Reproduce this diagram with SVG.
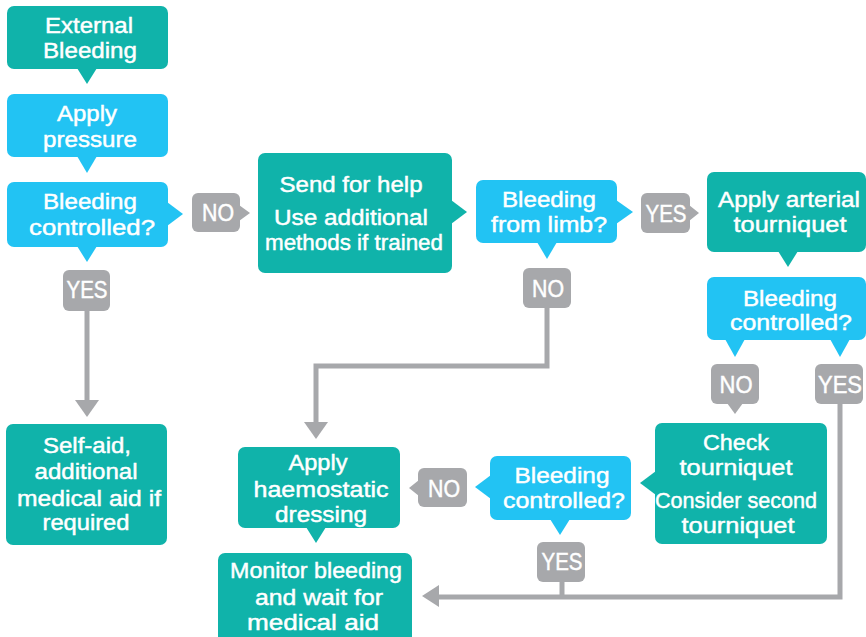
<svg xmlns="http://www.w3.org/2000/svg" width="866" height="637" viewBox="0 0 866 637">
<style>
.teal{fill:#10b3aa}
.blue{fill:#22c3f3}
.gray{fill:#a7a8ab}
.t{font-family:"Liberation Sans",Arial,sans-serif;font-size:22px;fill:#fff;stroke:#fff;stroke-width:0.45;text-anchor:middle}
.g{font-size:23px}
.line{fill:none;stroke:#a7a8ab;stroke-width:5}
</style>
<rect width="866" height="637" fill="#fff"/>
<g id="connectors">
<path class="line" d="M87,311 V402"/>
<polygon class="gray" points="75,400 99,400 87,417"/>
<path class="line" d="M547,308 V366 H316 V424"/>
<polygon class="gray" points="304,422 328,422 316,439"/>
<path class="line" d="M840,404 V597 H437"/>
<path class="line" d="M562,582 V597"/>
<polygon class="gray" points="439,585 422,596 439,607"/>
</g>
<g id="n-external">
<rect class="teal" x="7" y="6" width="161" height="63" rx="7"/>
<polygon class="teal" points="77,68 87,84 97,68"/>
<text class="t" x="89" y="33" textLength="88" lengthAdjust="spacingAndGlyphs">External</text>
<text class="t" x="90" y="58" textLength="94" lengthAdjust="spacingAndGlyphs">Bleeding</text>
</g>
<g id="n-pressure">
<rect class="blue" x="7" y="94" width="161" height="63" rx="7"/>
<polygon class="blue" points="77,156 87,173 97,156"/>
<text class="t" x="87" y="121" textLength="60" lengthAdjust="spacingAndGlyphs">Apply</text>
<text class="t" x="90" y="147" textLength="94" lengthAdjust="spacingAndGlyphs">pressure</text>
</g>
<g id="n-controlled1">
<rect class="blue" x="7" y="182" width="161" height="65" rx="7"/>
<polygon class="blue" points="167,202 183,214 167,226"/>
<polygon class="blue" points="77,246 87,262 97,246"/>
<text class="t" x="90" y="209" textLength="94" lengthAdjust="spacingAndGlyphs">Bleeding</text>
<text class="t" x="92" y="235" textLength="126" lengthAdjust="spacingAndGlyphs">controlled?</text>
</g>
<g id="tag-no1">
<rect class="gray" x="192" y="193" width="48" height="39" rx="6"/>
<polygon class="gray" points="239,205 250,213 239,221"/>
<text class="t g" x="218" y="221" textLength="32" lengthAdjust="spacingAndGlyphs">NO</text>
</g>
<g id="tag-yes1">
<rect class="gray" x="63" y="270" width="47" height="41" rx="6"/>
<text class="t g" x="87" y="298" textLength="41" lengthAdjust="spacingAndGlyphs">YES</text>
</g>
<g id="n-selfaid">
<rect class="teal" x="6" y="424" width="161" height="121" rx="7"/>
<text class="t" x="87" y="453" textLength="88" lengthAdjust="spacingAndGlyphs">Self-aid,</text>
<text class="t" x="86" y="479" textLength="103" lengthAdjust="spacingAndGlyphs">additional</text>
<text class="t" x="89" y="506" textLength="144" lengthAdjust="spacingAndGlyphs">medical aid if</text>
<text class="t" x="86" y="530" textLength="87" lengthAdjust="spacingAndGlyphs">required</text>
</g>
<g id="n-help">
<rect class="teal" x="258" y="153" width="194" height="120" rx="7"/>
<polygon class="teal" points="451,200 467,212 451,224"/>
<text class="t" x="351" y="192" textLength="143" lengthAdjust="spacingAndGlyphs">Send for help</text>
<text class="t" x="351" y="225" textLength="154" lengthAdjust="spacingAndGlyphs">Use additional</text>
<text class="t" x="354" y="250" textLength="178" lengthAdjust="spacingAndGlyphs">methods if trained</text>
</g>
<g id="n-limb">
<rect class="blue" x="476" y="180" width="141" height="63" rx="7"/>
<polygon class="blue" points="616,200 633,212 616,224"/>
<polygon class="blue" points="537,242 547,259 557,242"/>
<text class="t" x="549" y="207" textLength="94" lengthAdjust="spacingAndGlyphs">Bleeding</text>
<text class="t" x="549" y="232" textLength="116" lengthAdjust="spacingAndGlyphs">from limb?</text>
</g>
<g id="tag-yes2">
<rect class="gray" x="641" y="193" width="49" height="40" rx="6"/>
<polygon class="gray" points="689,205 699,213 689,221"/>
<text class="t g" x="666" y="222" textLength="41" lengthAdjust="spacingAndGlyphs">YES</text>
</g>
<g id="tag-no2">
<rect class="gray" x="523" y="268" width="48" height="40" rx="6"/>
<text class="t g" x="548" y="297" textLength="32" lengthAdjust="spacingAndGlyphs">NO</text>
</g>
<g id="n-tourniquet">
<rect class="teal" x="707" y="172" width="159" height="80" rx="7"/>
<polygon class="teal" points="778,251 788,267 798,251"/>
<text class="t" x="789" y="207" textLength="142" lengthAdjust="spacingAndGlyphs">Apply arterial</text>
<text class="t" x="790" y="232" textLength="113" lengthAdjust="spacingAndGlyphs">tourniquet</text>
</g>
<g id="n-controlled2">
<rect class="blue" x="707" y="277" width="159" height="63" rx="7"/>
<polygon class="blue" points="725,339 735,357 745,339"/>
<polygon class="blue" points="830,339 840,357 850,339"/>
<text class="t" x="790" y="306" textLength="94" lengthAdjust="spacingAndGlyphs">Bleeding</text>
<text class="t" x="791" y="330" textLength="122" lengthAdjust="spacingAndGlyphs">controlled?</text>
</g>
<g id="tag-no3">
<rect class="gray" x="711" y="364" width="48" height="40" rx="6"/>
<polygon class="gray" points="727,403 735,414 743,403"/>
<text class="t g" x="736" y="393" textLength="33" lengthAdjust="spacingAndGlyphs">NO</text>
</g>
<g id="tag-yes3">
<rect class="gray" x="815" y="364" width="48" height="40" rx="6"/>
<text class="t g" x="840" y="393" textLength="44" lengthAdjust="spacingAndGlyphs">YES</text>
</g>
<g id="n-check">
<rect class="teal" x="655" y="423" width="172" height="121" rx="7"/>
<polygon class="teal" points="656,471 640,483 656,495"/>
<text class="t" x="736" y="450" textLength="66" lengthAdjust="spacingAndGlyphs">Check</text>
<text class="t" x="736" y="475" textLength="113" lengthAdjust="spacingAndGlyphs">tourniquet</text>
<text class="t" x="736" y="508" textLength="162" lengthAdjust="spacingAndGlyphs">Consider second</text>
<text class="t" x="738" y="533" textLength="113" lengthAdjust="spacingAndGlyphs">tourniquet</text>
</g>
<g id="n-controlled3">
<rect class="blue" x="490" y="456" width="141" height="64" rx="7"/>
<polygon class="blue" points="491,475 475,487 491,499"/>
<polygon class="blue" points="550,519 560,535 570,519"/>
<text class="t" x="562" y="483" textLength="95" lengthAdjust="spacingAndGlyphs">Bleeding</text>
<text class="t" x="564" y="508" textLength="122" lengthAdjust="spacingAndGlyphs">controlled?</text>
</g>
<g id="tag-no4">
<rect class="gray" x="418" y="468" width="49" height="39" rx="6"/>
<polygon class="gray" points="419,480 409,488 419,496"/>
<text class="t g" x="444" y="497" textLength="32" lengthAdjust="spacingAndGlyphs">NO</text>
</g>
<g id="n-haemostatic">
<rect class="teal" x="238" y="447" width="162" height="81" rx="7"/>
<polygon class="teal" points="306,527 316,543 326,527"/>
<text class="t" x="318" y="470" textLength="59" lengthAdjust="spacingAndGlyphs">Apply</text>
<text class="t" x="321" y="497" textLength="135" lengthAdjust="spacingAndGlyphs">haemostatic</text>
<text class="t" x="321" y="522" textLength="92" lengthAdjust="spacingAndGlyphs">dressing</text>
</g>
<g id="tag-yes4">
<rect class="gray" x="537" y="542" width="48" height="40" rx="6"/>
<text class="t g" x="562" y="570" textLength="41" lengthAdjust="spacingAndGlyphs">YES</text>
</g>
<g id="n-monitor">
<rect class="teal" x="218" y="553" width="194" height="92" rx="7"/>
<text class="t" x="316" y="578" textLength="172" lengthAdjust="spacingAndGlyphs">Monitor bleeding</text>
<text class="t" x="319" y="605" textLength="128" lengthAdjust="spacingAndGlyphs">and wait for</text>
<text class="t" x="313" y="630" textLength="132" lengthAdjust="spacingAndGlyphs">medical aid</text>
</g>
</svg>
